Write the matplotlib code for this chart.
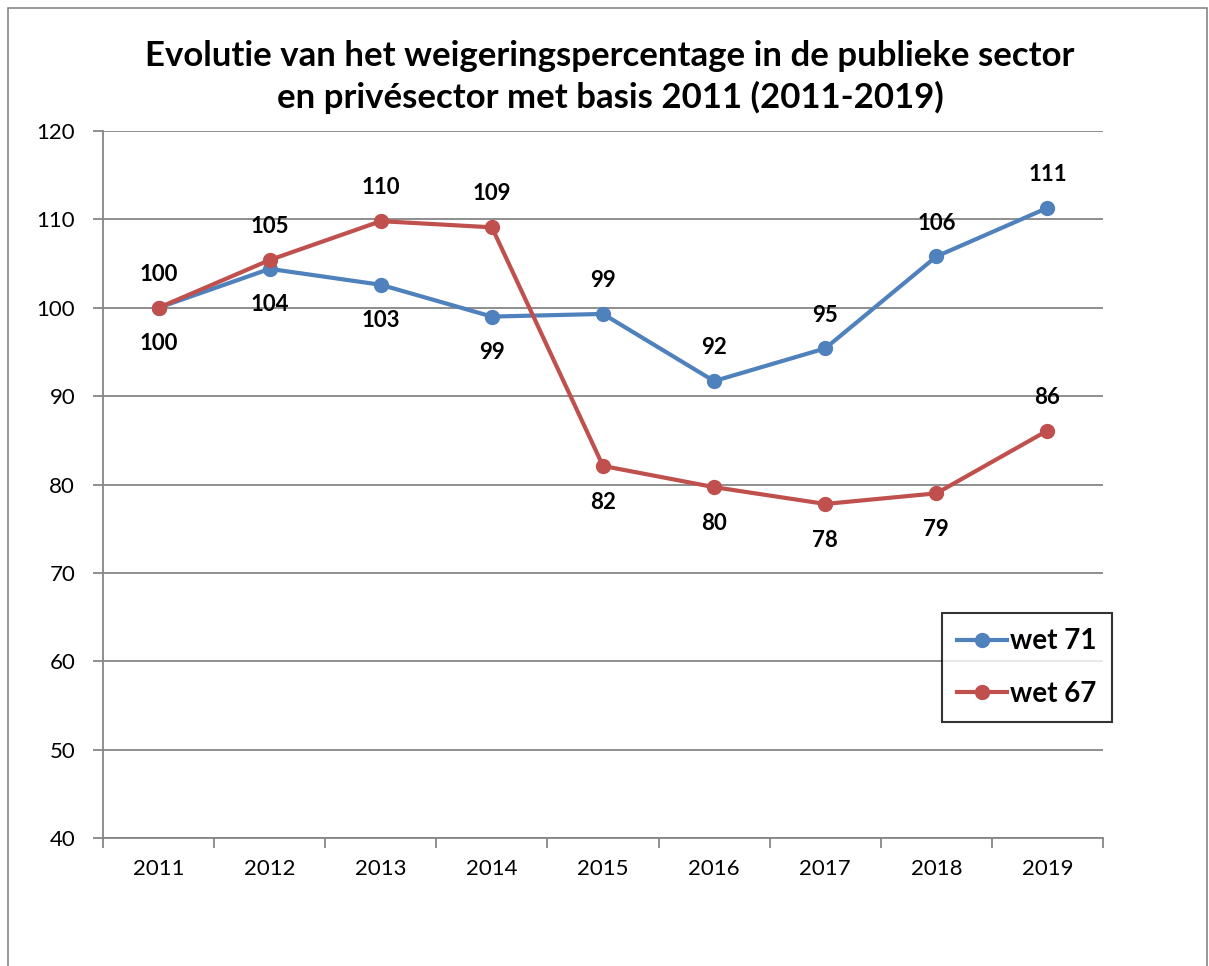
import numpy as np
import matplotlib.pyplot as plt
from matplotlib.patches import Rectangle

plt.rcParams['font.family'] = ['Lato', 'DejaVu Sans']

years = ['2011', '2012', '2013', '2014', '2015', '2016', '2017', '2018', '2019']
wet71 = [100, 104.4, 102.6, 99.0, 99.3, 91.7, 95.4, 105.8, 111.3]
wet67 = [100, 105.4, 109.8, 109.1, 82.1, 79.7, 77.8, 79.0, 86.1]
# +1 = label above the point, -1 = below
pos71 = [-1, -1, -1, -1, 1, 1, 1, 1, 1]
pos67 = [1, 1, 1, 1, -1, -1, -1, -1, 1]

blue = '#4F81BD'
red = '#C0504D'
grey = '#868686'

fig = plt.figure(figsize=(12.09, 9.66), dpi=100)
fig.patches.append(Rectangle((8 / 1209, -0.1), 1199 / 1209, 1.1 - 8 / 966,
                             transform=fig.transFigure, fill=False,
                             edgecolor='#868686', lw=1.2))

ax = fig.add_axes([103 / 1209, 1 - 838 / 966, 1000 / 1209, 707 / 966])
x = np.arange(len(years))

ax.plot(x, wet71, color=blue, lw=3, marker='o', ms=10, label='wet 71', zorder=3)
ax.plot(x, wet67, color=red, lw=3, marker='o', ms=10, label='wet 67', zorder=3)


def put_labels(vals, pos):
    for xi, v, p in zip(x, vals, pos):
        dy = 24 if p > 0 else -26
        ax.annotate(f'{round(v)}', (xi, v), xytext=(0, dy), textcoords='offset points',
                    ha='center', va='center', fontsize=16, fontweight='bold')


put_labels(wet71, pos71)
put_labels(wet67, pos67)

ax.set_xlim(-0.5, len(years) - 0.5)
ax.set_ylim(40, 120)
ax.set_yticks(np.arange(40, 121, 10))
ax.grid(axis='y', color=grey, lw=1.3)
ax.set_axisbelow(True)

ax.set_xticks(x)
ax.set_xticklabels(years, fontsize=16)
ax.set_xticks(np.arange(-0.5, len(years)), minor=True)
ax.tick_params(axis='x', which='major', length=0, pad=15)
ax.tick_params(axis='x', which='minor', length=7, color=grey, width=1.3, direction='out')
ax.tick_params(axis='y', length=7, color=grey, width=1.3, labelsize=16, pad=13)

for s in ['top', 'right']:
    ax.spines[s].set_visible(False)
for s in ['left', 'bottom']:
    ax.spines[s].set_color(grey)
    ax.spines[s].set_linewidth(1.3)

fig.text(610 / 1209, 1 - 77 / 966,
         'Evolutie van het weigeringspercentage in de publieke sector\n'
         'en privésector met basis 2011 (2011-2019)',
         ha='center', va='center', fontsize=25, fontweight='bold', linespacing=1.3)

leg = ax.legend(loc='upper left', bbox_to_anchor=(942 / 1209, 1 - 613 / 966),
                bbox_transform=fig.transFigure, frameon=True, fancybox=False,
                prop={'size': 20, 'weight': 'bold'}, handlelength=1.8,
                handletextpad=0.1, borderpad=0.55, labelspacing=0.95, borderaxespad=0)
leg.get_frame().set_edgecolor('black')
leg.get_frame().set_linewidth(1.5)

fig.savefig('out.png', dpi=100)
